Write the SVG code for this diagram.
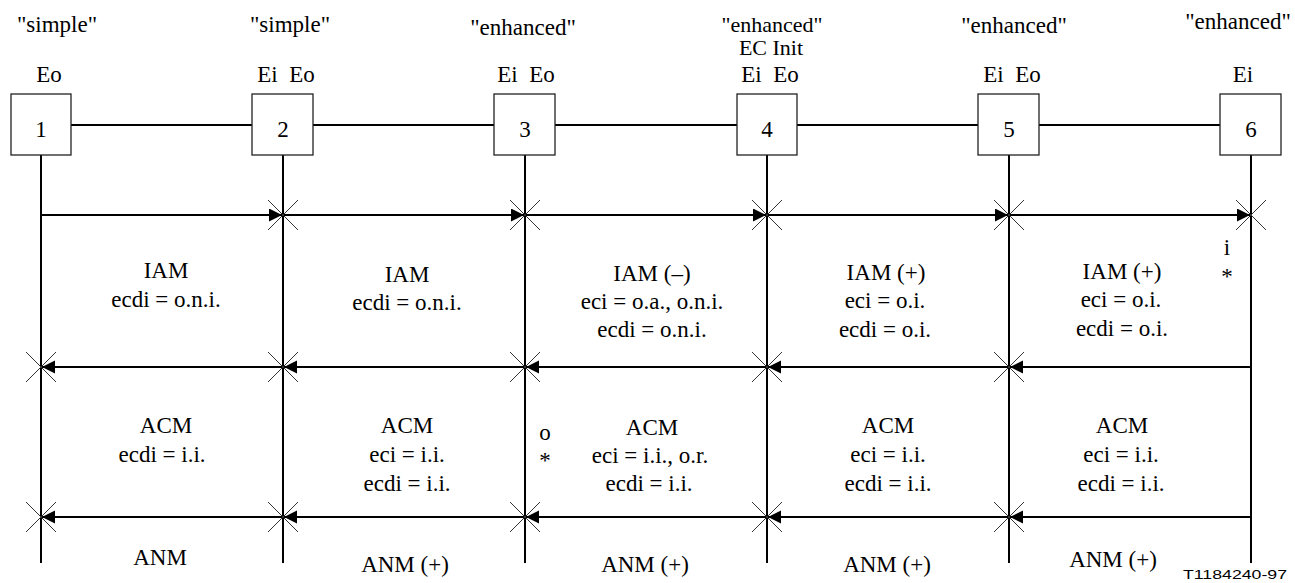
<svg xmlns="http://www.w3.org/2000/svg" width="1295" height="583" viewBox="0 0 1295 583">
<style>
text{font-family:'Liberation Serif','Times New Roman','DejaVu Serif',serif;font-size:23px;fill:#000;text-anchor:middle}
.box{fill:#fff;stroke:#222;stroke-width:1.3}
.ln{stroke:#000;stroke-width:2;fill:none}
.cr{stroke:#333;stroke-width:1;fill:none}
text.id{font-family:'Liberation Sans',Arial,sans-serif;font-size:13px;text-anchor:start}
</style>
<defs>
<marker id="ah" markerUnits="userSpaceOnUse" markerWidth="14" markerHeight="14" refX="13" refY="6.5" orient="auto">
<path d="M0,0 L13,6.5 L0,13 Z" fill="#000"/>
</marker>
</defs>
<g id="connectors">
<line class="ln" x1="71" y1="125" x2="1220" y2="125"/>
<line class="ln" x1="41" y1="155" x2="41" y2="563"/>
<line class="ln" x1="283" y1="155" x2="283" y2="563"/>
<line class="ln" x1="525" y1="155" x2="525" y2="563"/>
<line class="ln" x1="767" y1="155" x2="767" y2="563"/>
<line class="ln" x1="1009" y1="155" x2="1009" y2="563"/>
<line class="ln" x1="1251" y1="155" x2="1251" y2="563"/>
<g id="row1">
<line class="ln" x1="41" y1="215" x2="282" y2="215" marker-end="url(#ah)"/>
<line class="ln" x1="283" y1="215" x2="524" y2="215" marker-end="url(#ah)"/>
<line class="ln" x1="525" y1="215" x2="766" y2="215" marker-end="url(#ah)"/>
<line class="ln" x1="767" y1="215" x2="1008" y2="215" marker-end="url(#ah)"/>
<line class="ln" x1="1009" y1="215" x2="1250" y2="215" marker-end="url(#ah)"/>
</g>
<g id="row2">
<line class="ln" x1="1251" y1="367" x2="1010" y2="367" marker-end="url(#ah)"/>
<line class="ln" x1="1009" y1="367" x2="768" y2="367" marker-end="url(#ah)"/>
<line class="ln" x1="767" y1="367" x2="526" y2="367" marker-end="url(#ah)"/>
<line class="ln" x1="525" y1="367" x2="284" y2="367" marker-end="url(#ah)"/>
<line class="ln" x1="283" y1="367" x2="42" y2="367" marker-end="url(#ah)"/>
</g>
<g id="row3">
<line class="ln" x1="1251" y1="517" x2="1010" y2="517" marker-end="url(#ah)"/>
<line class="ln" x1="1009" y1="517" x2="768" y2="517" marker-end="url(#ah)"/>
<line class="ln" x1="767" y1="517" x2="526" y2="517" marker-end="url(#ah)"/>
<line class="ln" x1="525" y1="517" x2="284" y2="517" marker-end="url(#ah)"/>
<line class="ln" x1="283" y1="517" x2="42" y2="517" marker-end="url(#ah)"/>
</g>
<g id="crosses" class="cr">
<path d="M268,200 L298,230 M298,200 L268,230"/>
<path d="M510,200 L540,230 M540,200 L510,230"/>
<path d="M752,200 L782,230 M782,200 L752,230"/>
<path d="M994,200 L1024,230 M1024,200 L994,230"/>
<path d="M1236,200 L1266,230 M1266,200 L1236,230"/>
<path d="M26,352 L56,382 M56,352 L26,382"/>
<path d="M268,352 L298,382 M298,352 L268,382"/>
<path d="M510,352 L540,382 M540,352 L510,382"/>
<path d="M752,352 L782,382 M782,352 L752,382"/>
<path d="M994,352 L1024,382 M1024,352 L994,382"/>
<path d="M26,502 L56,532 M56,502 L26,532"/>
<path d="M268,502 L298,532 M298,502 L268,532"/>
<path d="M510,502 L540,532 M540,502 L510,532"/>
<path d="M752,502 L782,532 M782,502 L752,532"/>
<path d="M994,502 L1024,532 M1024,502 L994,532"/>
</g>
</g>
<g id="node1">
<text x="57" y="32">"simple"</text>
<text x="49" y="82">Eo</text>
<rect class="box" x="11" y="94" width="60" height="61"/>
<text x="41" y="137">1</text>
</g>
<g id="node2">
<text x="290" y="32">"simple"</text>
<text x="286" y="82" xml:space="preserve">Ei  Eo</text>
<rect class="box" x="252" y="94" width="61" height="61"/>
<text x="283" y="137">2</text>
</g>
<g id="node3">
<text x="523" y="35">"enhanced"</text>
<text x="526" y="82" xml:space="preserve">Ei  Eo</text>
<rect class="box" x="494" y="94" width="61" height="61"/>
<text x="525" y="137">3</text>
</g>
<g id="node4">
<text x="772" y="32" style="font-size:22px">"enhanced"</text>
<text x="771" y="55" style="font-size:22px">EC Init</text>
<text x="770" y="82" xml:space="preserve">Ei  Eo</text>
<rect class="box" x="737" y="94" width="60" height="61"/>
<text x="767" y="137">4</text>
</g>
<g id="node5">
<text x="1014" y="33">"enhanced"</text>
<text x="1012" y="82" xml:space="preserve">Ei  Eo</text>
<rect class="box" x="978" y="94" width="61" height="61"/>
<text x="1009" y="137">5</text>
</g>
<g id="node6">
<text x="1238" y="29">"enhanced"</text>
<text x="1243" y="82">Ei</text>
<rect class="box" x="1220" y="94" width="61" height="61"/>
<text x="1251" y="137">6</text>
</g>
<g id="labels">
<text x="166" y="278">IAM</text>
<text x="166" y="307">ecdi = o.n.i.</text>
<text x="407" y="282">IAM</text>
<text x="407" y="310">ecdi = o.n.i.</text>
<text x="652" y="281">IAM (–)</text>
<text x="652" y="309">eci = o.a., o.n.i.</text>
<text x="652" y="337">ecdi = o.n.i.</text>
<text x="886" y="280">IAM (+)</text>
<text x="885" y="308">eci = o.i.</text>
<text x="885" y="337">ecdi = o.i.</text>
<text x="1122" y="279">IAM (+)</text>
<text x="1121" y="307">eci = o.i.</text>
<text x="1122" y="336">ecdi = o.i.</text>
<text x="1227" y="255">i</text>
<text x="1227" y="284">*</text>
<text x="166" y="433">ACM</text>
<text x="162" y="462">ecdi = i.i.</text>
<text x="407" y="433">ACM</text>
<text x="407" y="462">eci = i.i.</text>
<text x="407" y="491">ecdi = i.i.</text>
<text x="652" y="435">ACM</text>
<text x="650" y="463">eci = i.i., o.r.</text>
<text x="649" y="491">ecdi = i.i.</text>
<text x="545" y="440">o</text>
<text x="545" y="468">*</text>
<text x="888" y="433">ACM</text>
<text x="888" y="462">eci = i.i.</text>
<text x="888" y="491">ecdi = i.i.</text>
<text x="1122" y="433">ACM</text>
<text x="1121" y="462">eci = i.i.</text>
<text x="1121" y="491">ecdi = i.i.</text>
<text x="160" y="565">ANM</text>
<text x="405" y="572">ANM (+)</text>
<text x="645" y="572">ANM (+)</text>
<text x="887" y="572">ANM (+)</text>
<text x="1113" y="567">ANM (+)</text>
<text class="id" x="1183" y="579" textLength="104" lengthAdjust="spacingAndGlyphs">T1184240-97</text>
</g>
</svg>
